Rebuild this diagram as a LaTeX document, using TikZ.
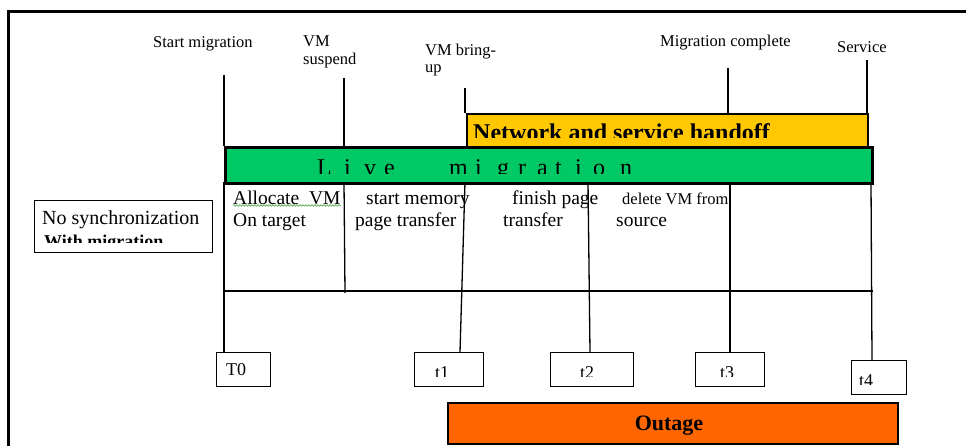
\documentclass[tikz,border=0pt]{standalone}
\usepackage{fontspec}
\setmainfont{Liberation Serif}
\usetikzlibrary{decorations.pathmorphing}
\definecolor{lmgreen}{HTML}{00C864}
\definecolor{hyellow}{HTML}{FFC800}
\definecolor{oorange}{HTML}{FF6600}
\definecolor{spellgreen}{HTML}{3CA03C}
\newcommand\fsz[1]{\fontsize{#1}{#1}\selectfont}
\begin{document}
\begin{tikzpicture}[x=1pt,y=-1pt,
  tick/.style={line width=1.3pt},
  tbox/.style={draw, line width=1.3pt, fill=white, inner sep=0pt, anchor=north west},
  bar/.style={draw, inner sep=0pt, anchor=north west},
  toplbl/.style={anchor=base west, inner sep=0pt, font=\fsz{16.5}},
  lowlbl/.style={anchor=base west, inner sep=0pt, font=\fsz{19.5}},
  tlbl/.style={anchor=base west, inner sep=0pt, font=\fsz{18}},
]
\useasboundingbox (0,0) rectangle (966,446);
% outer frame
\draw[line width=3pt] (8,446) -- (8,12) -- (966,12);

% top labels
\node[toplbl] (lstart) at (153,48) {Start migration};
\node[toplbl] (lsus1) at (303,47) {VM};
\node[toplbl] (lsus2) at (303,65) {suspend};
\node[toplbl] (lbr1) at (425,56) {VM bring-};
\node[toplbl] (lbr2) at (425,73) {up};
\node[toplbl] (lcomp) at (660,47) {Migration complete};
\node[toplbl] (lserv) at (837,53) {Service};

% bars
\node[bar, fill=hyellow, line width=1.6pt, minimum width=401pt, minimum height=33pt] (hoff) at (466,113) {};
\node[bar, fill=lmgreen, line width=2.6pt, minimum width=647pt, minimum height=36pt] (lm) at (224,146) {};

% top ticks
\coordinate (s0) at (224,75);
\coordinate (s1) at (344,78);
\coordinate (s2) at (465,88);
\coordinate (s3) at (728,68);
\coordinate (s4) at (867,60);
\draw[tick] (s0) -- (s0 |- lm.north);
\draw[tick] (s1) -- (s1 |- lm.north);
\draw[tick] (s2) -- (s2 |- hoff.north);
\draw[tick] (s3) -- (s3 |- hoff.north);
\draw[tick] (s4) -- (s4 |- hoff.north);

% bar texts (clipped as in the original)
\begin{scope}
\clip (466,113) rectangle (866,138);
\node[anchor=base west, inner sep=0pt, font=\fsz{24}\bfseries] (hofftxt) at (473,141) {Network and service handoff};
\end{scope}
\begin{scope}
\clip (226,148) rectangle (869,174);
\foreach \x/\c [count=\n] in {317/L,344/i,364/v,384/e,449/m,475/i,497/g,518/r,537/a,555/t,575/i,593/o,620/n}
  \node[anchor=base west, inner sep=0pt, font=\fsz{24}] (lmc\n) at (\x,176) {\c};
\end{scope}

% boxes
\node[tbox, minimum width=178pt, minimum height=52pt] (nosync) at (34,200) {};
\node[tbox, minimum width=54pt, minimum height=34pt] (T0) at (216,352) {};
\node[tbox, minimum width=69pt, minimum height=34pt] (t1) at (414,352) {};
\node[tbox, minimum width=83pt, minimum height=34pt] (t2) at (550,352) {};
\node[tbox, minimum width=69pt, minimum height=34pt] (t3) at (695,352) {};
\node[tbox, minimum width=55pt, minimum height=34pt] (t4) at (851,360) {};
\node[bar, fill=oorange, line width=1.5pt, minimum width=450pt, minimum height=41pt] (outage) at (447,402) {};
\node[anchor=base, inner sep=0pt, font=\fsz{22}\bfseries] (outtxt) at (669,430) {Outage};

% lower lines
\coordinate (a0) at (224,182);
\coordinate (a1) at (344,182);
\coordinate (a1e) at (345,293);
\coordinate (a2) at (465,182);
\coordinate (a2e) at (460,352);
\coordinate (a3) at (588,182);
\coordinate (a3e) at (590,352);
\coordinate (a4) at (730,182);
\coordinate (a4e) at (730,352);
\coordinate (a5) at (871,182);
\coordinate (a5e) at (872,360);
\coordinate (h0) at (224,291);
\coordinate (h1) at (873,291);
\draw[tick] (a0) -- (a0 |- T0.north);
\draw[tick] (a1) -- (a1e);
\draw[tick] (a2) -- (a2e);
\draw[tick] (a3) -- (a3e);
\draw[tick] (a4) -- (a4e);
\draw[tick] (a5) -- (a5e);
\draw[tick] (h0) -- (h1);

% lower labels
\node[lowlbl] (alloc1) at (233,205) {Allocate\ \ VM};
\node[lowlbl] (alloc2) at (233,227) {On target};
\draw[spellgreen, line width=0.6pt, decorate, decoration={snake, segment length=3pt, amplitude=0.8pt}] (alloc1.south west) -- (alloc1.south east);
\node[lowlbl] (smem1) at (366,205) {start memory};
\node[lowlbl] (smem2) at (355,227) {page transfer};
\node[lowlbl] (fin1) at (512,205) {finish page};
\node[lowlbl] (fin2) at (503,227) {transfer};
\node[toplbl] (del1) at (622,205) {delete VM from};
\node[lowlbl] (del2) at (616,227) {source};

% no sync text
\begin{scope}
\clip (35,201) rectangle (211,243);
\node[anchor=base west, inner sep=0pt, font=\fsz{20}] (ns1) at (42,225) {No synchronization};
\node[anchor=base west, inner sep=0pt, font=\fsz{18}\bfseries] (ns2) at (44,248) {With migration};
\end{scope}

% time labels
\node[tlbl] (T0txt) at (226,375) {T0};
\begin{scope}
\clip (414,352) rectangle (906,376.5);
\node[tlbl] (t1txt) at (435,378) {t1};
\node[tlbl] (t2txt) at (580,378) {t2};
\node[tlbl] (t3txt) at (720,378) {t3};
\end{scope}
\begin{scope}
\clip (851,360) rectangle (906,384.5);
\node[tlbl] (t4txt) at (859,386) {t4};
\end{scope}
\end{tikzpicture}
\end{document}
